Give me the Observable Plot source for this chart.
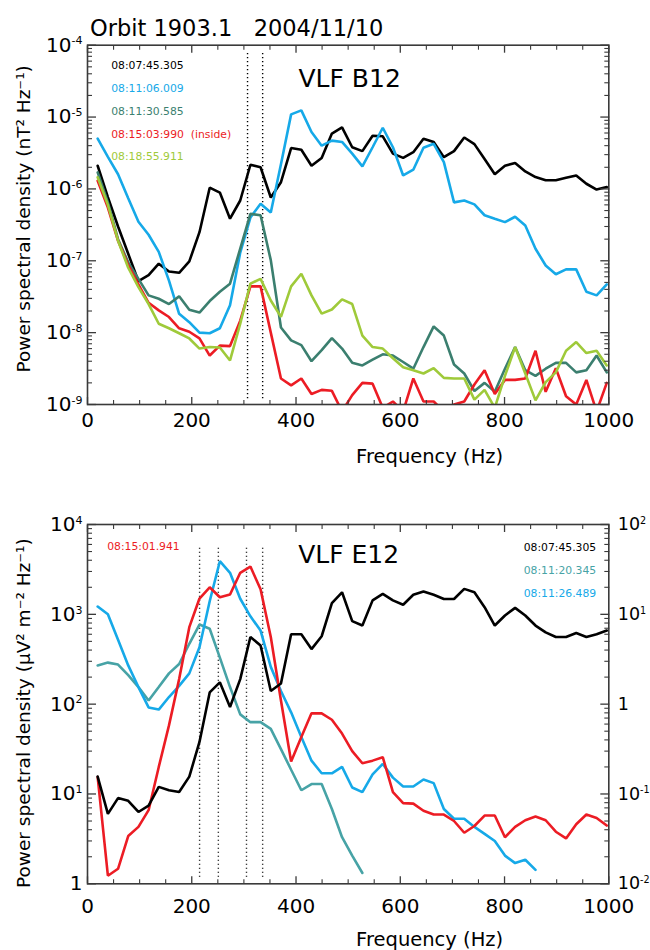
<!DOCTYPE html>
<html><head><meta charset="utf-8">
<script src="https://cdn.jsdelivr.net/npm/d3@7"></script>
<script src="https://cdn.jsdelivr.net/npm/@observablehq/plot@0.6"></script>
<style>
html,body{margin:0;padding:0;background:#fff;}
#wrap{position:relative;width:650px;height:950px;font-family:"DejaVu Sans",sans-serif;overflow:hidden;}
#p1{position:absolute;left:0;top:40px;}
#p2{position:absolute;left:0;top:470px;}
#title{position:absolute;left:90px;top:17px;font-size:22.5px;line-height:1;white-space:pre;color:#000;}
</style></head><body>
<div id="wrap"><div id="p1"></div><div id="p2"></div><div id="title">Orbit 1903.1   2004/11/10</div></div>
<script>
// ---- data ----
const freqHz = [19.5,39.1,58.6,78.1,97.7,117.2,136.7,156.3,175.8,195.3,214.8,234.4,253.9,273.4,293.0,312.5,332.0,351.6,371.1,390.6,410.2,429.7,449.2,468.8,488.3,507.8,527.3,546.9,566.4,585.9,605.5,625.0,644.5,664.1,683.6,703.1,722.7,742.2,761.7,781.3,800.8,820.3,839.8,859.4,878.9,898.4,918.0,937.5,957.0,976.6,996.1];

// VLF B12 (nT^2/Hz)
const b12_080745 = [2.1e-6,7.7e-7,3.0e-7,1.25e-7,5.2e-8,6.3e-8,9.1e-8,7.1e-8,6.8e-8,9.8e-8,2.5e-7,1.04e-6,8.9e-7,3.85e-7,6.9e-7,2.17e-6,2.0e-6,7.6e-7,1.24e-6,3.7e-6,3.5e-6,2.1e-6,2.7e-6,5.9e-6,7.2e-6,3.8e-6,3.36e-6,5.5e-6,5.4e-6,3.1e-6,2.7e-6,3.24e-6,5.0e-6,4.5e-6,2.76e-6,3.36e-6,5.2e-6,4.2e-6,2.6e-6,1.6e-6,2.1e-6,2.3e-6,1.75e-6,1.46e-6,1.32e-6,1.32e-6,1.43e-6,1.54e-6,1.18e-6,9.8e-7,1.06e-6];
const b12_081106 = [5.0e-6,2.8e-6,1.6e-6,7.4e-7,3.5e-7,2.3e-7,1.33e-7,5.3e-8,1.83e-8,1.4e-8,1.0e-8,9.8e-9,1.15e-8,2.4e-8,1.3e-7,4.0e-7,6.2e-7,4.7e-7,2.2e-6,1.09e-5,1.24e-5,6.2e-6,4.0e-6,4.7e-6,4.5e-6,3.1e-6,2.06e-6,3.8e-6,7.1e-6,3.8e-6,1.54e-6,1.85e-6,3.74e-6,4.25e-6,2.36e-6,6.5e-7,6.9e-7,6.1e-7,4.3e-7,3.85e-7,3.45e-7,4.1e-7,3.1e-7,1.47e-7,8.6e-8,6.5e-8,7.6e-8,7.6e-8,3.7e-8,3.3e-8,4.7e-8];
const b12_081130 = [1.7e-6,6.5e-7,2.0e-7,9.5e-8,5.6e-8,3.3e-8,2.96e-8,2.5e-8,3.2e-8,2.08e-8,1.9e-8,2.75e-8,3.7e-8,4.8e-8,1.48e-7,4.5e-7,4.3e-7,1.02e-7,1.18e-8,7.8e-9,6.7e-9,4.0e-9,5.7e-9,8.4e-9,6.0e-9,3.8e-9,3.5e-9,4.2e-9,5.0e-9,4.8e-9,3.9e-9,3.15e-9,6.3e-9,1.22e-8,9.1e-9,3.6e-9,2.7e-9,1.54e-9,2.0e-9,1.5e-9,3.15e-9,6.3e-9,3.0e-9,2.5e-9,3.15e-9,3.8e-9,3.8e-9,2.8e-9,3.0e-9,4.8e-9,2.8e-9];
const b12_081503 = [1.3e-6,5.5e-7,1.9e-7,8.7e-8,4.7e-8,2.6e-8,2.04e-8,1.65e-8,1.15e-8,1.03e-8,8.3e-9,4.8e-9,6.6e-9,6.5e-9,1.47e-8,4.4e-8,4.4e-8,1.0e-8,2.3e-9,1.85e-9,2.3e-9,1.4e-9,1.6e-9,1.55e-9,8e-10,1.35e-9,2.0e-9,1.95e-9,9e-10,1.1e-9,8e-10,2.3e-9,1.1e-9,1.1e-9,8e-10,1.0e-9,1.1e-9,1.9e-9,3.0e-9,1.4e-9,2.2e-9,2.2e-9,2.3e-9,5.6e-9,1.5e-9,3.2e-9,1.3e-9,1.0e-9,2.2e-9,8e-10,2.0e-9];
const b12_081855 = [1.45e-6,6.0e-7,1.9e-7,8.0e-8,4.3e-8,2.5e-8,1.33e-8,1.15e-8,9.8e-9,8.3e-9,6.0e-9,6.3e-9,6.2e-9,4.1e-9,1.33e-8,4.8e-8,5.6e-8,2.8e-8,1.66e-8,4.4e-8,6.6e-8,3.3e-8,1.84e-8,2.1e-8,2.9e-8,2.5e-8,9.1e-9,6.3e-9,6.0e-9,4.4e-9,3.3e-9,3.0e-9,2.7e-9,3.2e-9,2.35e-9,2.3e-9,2.3e-9,1.17e-9,1.6e-9,9e-10,2.5e-9,6.3e-9,2.7e-9,1.14e-9,2.05e-9,2.8e-9,5.6e-9,7.4e-9,5.2e-9,5.6e-9,3.5e-9];

// VLF E12 (uV^2 m^-2 Hz^-1)
const e12_080745 = [15.6,6.0,9.0,8.4,6.3,7.4,12,11,10.5,15.6,38,135,175,93,190,560,450,140,170,600,600,410,570,1330,1760,840,750,1430,1690,1430,1280,1650,1800,1650,1480,1480,1920,1760,1200,750,970,1180,970,750,630,560,560,620,560,600,660];
const e12_081120 = [270,290,276,210,155,110,155,220,280,470,770,690,330,155,77,63,63,53,31.6,18.6,11,12.9,12.9,6.8,3.3,2.06,1.32];
const e12_081126 = [1220,1000,520,270,155,92,87,120,160,220,430,1400,3900,2900,1490,950,660,260,140,81,43,23.5,17,17,20,11.8,10.5,16.5,21.6,15.2,12.1,12.1,14.5,13.2,6.8,5.3,5.3,4.3,3.6,3.0,2.06,1.7,1.85,1.43];
const e12_081501 = [15.4,1.23,1.47,3.4,4.3,6.6,20,58,190,720,1500,2000,1550,1660,2900,3400,1900,560,110,23,43,79,79,67,47,30,22,23.5,25.7,10.5,7.9,7.8,6.5,5.9,5.9,5.0,3.7,4.4,5.75,5.75,3.3,4.3,5.1,5.6,5.1,3.8,3.2,4.6,5.9,5.4,4.45];

// dotted marker frequencies (Hz)
const markersB12 = [307, 336];
const markersE12 = [215, 251, 305, 336];

// legends
const legendB12 = [
  {label: "08:07:45.305", color: "#000000", values: b12_080745},
  {label: "08:11:06.009", color: "#16a9e8", values: b12_081106},
  {label: "08:11:30.585", color: "#3b7f6f", values: b12_081130},
  {label: "08:15:03:990\u00a0\u00a0(inside)", color: "#ec1c24", values: b12_081503},
  {label: "08:18:55.911", color: "#9fca3a", values: b12_081855}
];
const legendE12Right = [
  {label: "08:07:45.305", color: "#000000", values: e12_080745},
  {label: "08:11:20.345", color: "#47a3a6", values: e12_081120},
  {label: "08:11:26.489", color: "#16a9e8", values: e12_081126}
];
const legendE12Left = [
  {label: "08:15:01.941", color: "#ec1c24", values: e12_081501}
];

// tick values
const xMajor = [0, 200, 400, 600, 800, 1000];
const xMinor = d3.range(50, 1000, 50).filter(v => v % 200 !== 0);
const b12Major = [1e-9, 1e-8, 1e-7, 1e-6, 1e-5, 1e-4];
const e12Major = [1, 10, 100, 1000, 10000];
const e12RightLabels = ["10^-2", "10^-1", "1", "10^1", "10^2"];

// ---- helpers ----
const minorLog = (lo, hi) => { const o = []; for (let e = lo; e < hi; e++) for (let m = 2; m <= 9; m++) o.push(m * Math.pow(10, e)); return o; };
const pow10Label = v => { const e = Math.round(Math.log10(v)); return e === 0 ? "1" : "10^" + e; };
const rows = vals => vals.map((v, i) => ({f: freqHz[i], v}));
const AX = "#3a3a3a";

function frameAxes(yMajor, yMinor, leftFmt, rightFmt, xPad) {
  const blank = () => "";
  return [
    Plot.axisY(yMajor, {anchor: "left", tickSize: -9, tickPadding: 14, tickFormat: leftFmt, fontSize: 20, stroke: AX, strokeWidth: 1.3, label: null}),
    Plot.axisY(yMinor, {anchor: "left", tickSize: -5, tickFormat: blank, stroke: AX, strokeWidth: 1.1, label: null}),
    Plot.axisY(yMajor, {anchor: "right", tickSize: -9, tickPadding: 18, tickFormat: rightFmt || blank, fontSize: 17.5, stroke: AX, strokeWidth: 1.3, label: null}),
    Plot.axisY(yMinor, {anchor: "right", tickSize: -5, tickFormat: blank, stroke: AX, strokeWidth: 1.1, label: null}),
    Plot.axisX(xMajor, {anchor: "bottom", tickSize: -7, tickPadding: xPad, tickFormat: d => String(d), fontSize: 20, stroke: AX, strokeWidth: 1.3, label: null}),
    Plot.axisX(xMinor, {anchor: "bottom", tickSize: -4, tickFormat: blank, stroke: AX, strokeWidth: 1.1, label: null}),
    Plot.axisX(xMajor, {anchor: "top", tickSize: -7, tickFormat: blank, stroke: AX, strokeWidth: 1.3, label: null}),
    Plot.axisX(xMinor, {anchor: "top", tickSize: -4, tickFormat: blank, stroke: AX, strokeWidth: 1.1, label: null}),
    Plot.frame({stroke: AX, strokeWidth: 1.6})
  ];
}

function supify(svg) {
  const NS = "http://www.w3.org/2000/svg";
  svg.querySelectorAll("text").forEach(t => {
    const s = t.textContent;
    if (s.includes("^") && t.querySelectorAll("tspan").length === 0) {
      const [b, e] = s.split("^");
      t.textContent = b;
      const ts = document.createElementNS(NS, "tspan");
      ts.setAttribute("font-size", "0.55em");
      ts.setAttribute("dy", "-0.65em");
      ts.textContent = e;
      t.appendChild(ts);
    }
  });
}

const lineMarks = list => list.map(s => Plot.line(rows(s.values), {x: "f", y: "v", stroke: s.color, strokeWidth: 2.6, strokeLinejoin: "miter", clip: true}));
const styleObj = {fontFamily: "DejaVu Sans", overflow: "visible", background: "transparent", color: "#000"};

// ---- panel 1: VLF B12 ----
const svg1 = Plot.plot({
  width: 650, height: 430,
  marginLeft: 87, marginRight: 41.7, marginTop: 4.7, marginBottom: 66,
  style: styleObj,
  x: {domain: [0, 1000], label: null},
  y: {type: "log", domain: [1e-9, 1e-4], label: null},
  marks: [
    Plot.ruleX(markersB12, {y1: 1.2e-9, y2: 8e-5, stroke: "#000", strokeWidth: 1.4, strokeDasharray: "1.2,2.8"}),
    ...lineMarks(legendB12),
    ...frameAxes(b12Major, minorLog(-9, -4), pow10Label, null, 15.5),
    Plot.text(["VLF B12"], {frameAnchor: "top-left", dx: 211, dy: 33.3, fontSize: 25, textAnchor: "start", lineAnchor: "middle"}),
    ...legendB12.map((d, i) => Plot.text([d.label], {frameAnchor: "top-left", dx: 23.7, dy: 20.8 + i * 22.75, fontSize: 10.8, fill: d.color, textAnchor: "start", lineAnchor: "middle"})),
    Plot.text(["Power spectral density (nT² Hz⁻¹)"], {frameAnchor: "left", rotate: -90, dx: -63.9, dy: -6, fontSize: 18.5, textAnchor: "middle", lineAnchor: "middle"}),
    Plot.text(["Frequency (Hz)"], {frameAnchor: "bottom", dx: 81.5, dy: 51.8, fontSize: 19.5, textAnchor: "middle", lineAnchor: "middle"})
  ]
});
supify(svg1);
document.getElementById("p1").appendChild(svg1);

// ---- panel 2: VLF E12 ----
const svg2 = Plot.plot({
  width: 650, height: 480,
  marginLeft: 87, marginRight: 41.7, marginTop: 54, marginBottom: 66.7,
  style: styleObj,
  x: {domain: [0, 1000], label: null},
  y: {type: "log", domain: [1, 1e4], label: null},
  marks: [
    Plot.ruleX(markersE12, {y1: 1.18, y2: 5600, stroke: "#000", strokeWidth: 1.4, strokeDasharray: "1.2,2.8"}),
    ...lineMarks([legendE12Right[1], legendE12Right[2], legendE12Left[0], legendE12Right[0]]),
    ...frameAxes(e12Major, minorLog(0, 4), pow10Label, v => e12RightLabels[e12Major.indexOf(v)], 21.5),
    Plot.text(["VLF E12"], {frameAnchor: "top-left", dx: 210.7, dy: 30.7, fontSize: 25, textAnchor: "start", lineAnchor: "middle"}),
    ...legendE12Left.map((d, i) => Plot.text([d.label], {frameAnchor: "top-left", dx: 19.7, dy: 21.8 + i * 23, fontSize: 10.8, fill: d.color, textAnchor: "start", lineAnchor: "middle"})),
    ...legendE12Right.map((d, i) => Plot.text([d.label], {frameAnchor: "top-right", dx: -12.6, dy: 23.2 + i * 23, fontSize: 10.8, fill: d.color, textAnchor: "end", lineAnchor: "middle"})),
    Plot.text(["Power spectral density (μV² m⁻² Hz⁻¹)"], {frameAnchor: "left", rotate: -90, dx: -63.9, dy: 9, fontSize: 18.5, textAnchor: "middle", lineAnchor: "middle"}),
    Plot.text(["Frequency (Hz)"], {frameAnchor: "bottom", dx: 81.5, dy: 55.5, fontSize: 19.5, textAnchor: "middle", lineAnchor: "middle"})
  ]
});
supify(svg2);
document.getElementById("p2").appendChild(svg2);
</script>
</body></html>
